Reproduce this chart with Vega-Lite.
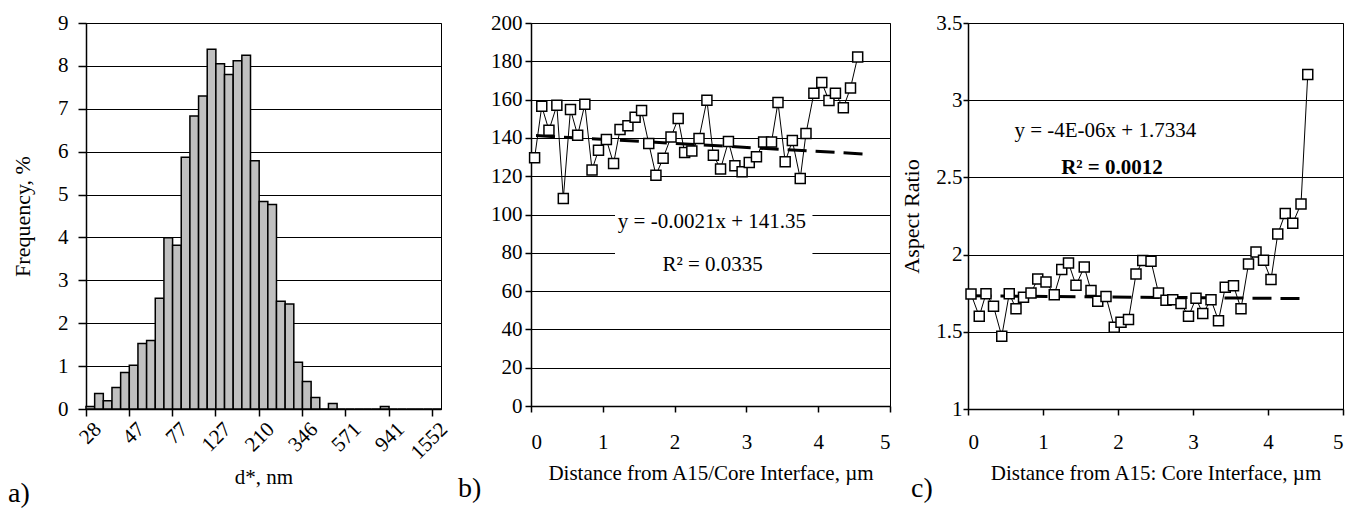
{
  "$schema": "https://vega.github.io/schema/vega-lite/v6.json",
  "background": "white",
  "padding": {"left": 7, "top": 11, "right": 0, "bottom": 0},
  "config": {
    "font": "Liberation Serif",
    "view": {"stroke": "black", "strokeWidth": 1},
    "axis": {
      "domainColor": "black", "domainWidth": 1.5,
      "tickColor": "black", "tickWidth": 1.5,
      "gridColor": "black", "gridOpacity": 1, "gridWidth": 1,
      "labelColor": "black", "titleColor": "black",
      "labelFont": "Liberation Serif", "titleFont": "Liberation Serif",
      "labelFontSize": 21, "titleFontSize": 21, "titleFontWeight": "normal"
    },
    "title": {"font": "Liberation Serif", "fontWeight": "normal", "fontSize": 28, "color": "black"}
  },
  "datasets": {
    "hist": [
      {"d": 28, "f": 0.06}, {"d": 31, "f": 0.36}, {"d": 34, "f": 0.19}, {"d": 38, "f": 0.5}, {"d": 42, "f": 0.85},
      {"d": 47, "f": 1.02}, {"d": 52, "f": 1.53}, {"d": 57, "f": 1.6}, {"d": 63, "f": 2.58}, {"d": 70, "f": 3.99},
      {"d": 77, "f": 3.82}, {"d": 85, "f": 5.87}, {"d": 94, "f": 6.83}, {"d": 104, "f": 7.3}, {"d": 115, "f": 8.39},
      {"d": 127, "f": 8.05}, {"d": 140, "f": 7.8}, {"d": 155, "f": 8.12}, {"d": 171, "f": 8.25}, {"d": 190, "f": 5.79},
      {"d": 210, "f": 4.84}, {"d": 232, "f": 4.77}, {"d": 256, "f": 2.51}, {"d": 283, "f": 2.45}, {"d": 313, "f": 1.09},
      {"d": 346, "f": 0.64}, {"d": 382, "f": 0.27}, {"d": 422, "f": 0}, {"d": 466, "f": 0.13}, {"d": 516, "f": 0},
      {"d": 571, "f": 0}, {"d": 631, "f": 0}, {"d": 697, "f": 0}, {"d": 770, "f": 0}, {"d": 851, "f": 0.06},
      {"d": 941, "f": 0}, {"d": 1040, "f": 0}, {"d": 1149, "f": 0}, {"d": 1270, "f": 0}, {"d": 1404, "f": 0},
      {"d": 1552, "f": 0}
    ],
    "b": [
      {"x": 0.05, "y": 129.6}, {"x": 0.15, "y": 156.5}, {"x": 0.25, "y": 144}, {"x": 0.36, "y": 157}, {"x": 0.45, "y": 108.4},
      {"x": 0.55, "y": 154.8}, {"x": 0.65, "y": 141.4}, {"x": 0.75, "y": 157.6}, {"x": 0.85, "y": 123.3}, {"x": 0.94, "y": 133.6},
      {"x": 1.05, "y": 139.1}, {"x": 1.15, "y": 126.6}, {"x": 1.24, "y": 144.4}, {"x": 1.35, "y": 146.3}, {"x": 1.45, "y": 150.8},
      {"x": 1.54, "y": 154.3}, {"x": 1.64, "y": 137.1}, {"x": 1.74, "y": 120.5}, {"x": 1.84, "y": 129.4}, {"x": 1.95, "y": 140.5},
      {"x": 2.05, "y": 150.1}, {"x": 2.14, "y": 132.4}, {"x": 2.24, "y": 133.1}, {"x": 2.34, "y": 139.7}, {"x": 2.45, "y": 159.7},
      {"x": 2.54, "y": 131}, {"x": 2.64, "y": 123.8}, {"x": 2.75, "y": 138.1}, {"x": 2.84, "y": 125.4}, {"x": 2.94, "y": 122.3},
      {"x": 3.04, "y": 127.1}, {"x": 3.14, "y": 130.1}, {"x": 3.24, "y": 137.9}, {"x": 3.35, "y": 137.9}, {"x": 3.44, "y": 158.5},
      {"x": 3.54, "y": 127.5}, {"x": 3.64, "y": 138.6}, {"x": 3.75, "y": 118.8}, {"x": 3.83, "y": 142.3}, {"x": 3.94, "y": 163.3},
      {"x": 4.05, "y": 168.9}, {"x": 4.15, "y": 159.5}, {"x": 4.24, "y": 163.3}, {"x": 4.35, "y": 155.7}, {"x": 4.45, "y": 166.1},
      {"x": 4.55, "y": 182.3}
    ],
    "btrend": [{"x": 0.07, "y": 141.2}, {"x": 4.64, "y": 131.6}],
    "bbox": [{"x": 1.17, "x2": 3.92, "y": 66, "y2": 105}],
    "btext": [
      {"x": 2.52, "y": 96.2, "label": "y = -0.0021x + 141.35"},
      {"x": 2.53, "y": 73.6, "label": "R² = 0.0335"}
    ],
    "c": [
      {"x": 0.04, "y": 1.745}, {"x": 0.15, "y": 1.6}, {"x": 0.24, "y": 1.747}, {"x": 0.34, "y": 1.665}, {"x": 0.45, "y": 1.471},
      {"x": 0.55, "y": 1.747}, {"x": 0.64, "y": 1.65}, {"x": 0.74, "y": 1.723}, {"x": 0.84, "y": 1.752}, {"x": 0.93, "y": 1.842},
      {"x": 1.04, "y": 1.823}, {"x": 1.15, "y": 1.74}, {"x": 1.25, "y": 1.903}, {"x": 1.34, "y": 1.946}, {"x": 1.44, "y": 1.801},
      {"x": 1.55, "y": 1.92}, {"x": 1.64, "y": 1.767}, {"x": 1.73, "y": 1.698}, {"x": 1.84, "y": 1.728}, {"x": 1.95, "y": 1.529},
      {"x": 2.04, "y": 1.562}, {"x": 2.14, "y": 1.579}, {"x": 2.24, "y": 1.874}, {"x": 2.33, "y": 1.961}, {"x": 2.44, "y": 1.957},
      {"x": 2.54, "y": 1.752}, {"x": 2.64, "y": 1.704}, {"x": 2.73, "y": 1.708}, {"x": 2.84, "y": 1.683}, {"x": 2.94, "y": 1.6},
      {"x": 3.04, "y": 1.717}, {"x": 3.13, "y": 1.618}, {"x": 3.24, "y": 1.708}, {"x": 3.34, "y": 1.572}, {"x": 3.43, "y": 1.788},
      {"x": 3.54, "y": 1.798}, {"x": 3.64, "y": 1.65}, {"x": 3.74, "y": 1.939}, {"x": 3.84, "y": 2.017}, {"x": 3.94, "y": 1.963},
      {"x": 4.04, "y": 1.838}, {"x": 4.13, "y": 2.133}, {"x": 4.23, "y": 2.267}, {"x": 4.33, "y": 2.203}, {"x": 4.44, "y": 2.328},
      {"x": 4.53, "y": 3.166}
    ],
    "ctrend": [{"x": 0.06, "y": 1.733}, {"x": 4.52, "y": 1.715}],
    "ctext1": [{"x": 1.83, "y": 2.803, "label": "y = -4E-06x + 1.7334"}],
    "ctext2": [{"x": 1.92, "y": 2.561, "label": "R² = 0.0012"}]
  },
  "bounds": "full",
  "spacing": 5,
  "hconcat": [
    {
      "width": 355,
      "height": 386,
      "data": {"name": "hist"},
      "title": {"text": "a)", "orient": "bottom", "anchor": "start", "frame": "group", "dx": -78, "offset": -8},
      "mark": {"type": "bar", "fill": "#c0c0c0", "stroke": "black", "strokeWidth": 1.5},
      "encoding": {
        "x": {
          "field": "d", "type": "ordinal",
          "scale": {"paddingInner": 0, "paddingOuter": 0},
          "axis": {
            "values": [28, 47, 77, 127, 210, 346, 571, 941, 1552],
            "bandPosition": 0, "labelAngle": -45, "title": "d*, nm",
            "tickSize": 7, "labelPadding": 2, "grid": false, "titlePadding": 4
          }
        },
        "y": {
          "field": "f", "type": "quantitative",
          "scale": {"domain": [0, 9]},
          "axis": {
            "values": [0, 1, 2, 3, 4, 5, 6, 7, 8, 9],
            "title": "Frequency, %", "titleFontSize": 22, "tickSize": 8, "labelPadding": 10,
            "grid": true, "titlePadding": 23
          }
        }
      }
    },
    {
      "spacing": 8,
      "hconcat": [
        {
          "width": 359,
          "height": 383,
          "title": {"text": "b)", "orient": "bottom", "anchor": "start", "frame": "group", "dx": -73, "offset": -8},
          "encoding": {
            "x": {
              "field": "x", "type": "quantitative",
              "scale": {"domain": [0, 5]},
              "axis": {
                "values": [0, 1, 2, 3, 4, 5], "title": "Distance from A15/Core Interface, µm",
                "tickSize": 6, "labelPadding": 19, "grid": false, "titlePadding": 10
              }
            },
            "y": {
              "field": "y", "type": "quantitative",
              "scale": {"domain": [0, 200]},
              "axis": {
                "values": [0, 20, 40, 60, 80, 100, 120, 140, 160, 180, 200],
                "title": null, "tickSize": 6, "labelPadding": 3, "grid": true
              }
            }
          },
          "layer": [
            {
              "data": {"name": "bbox"},
              "mark": {"type": "rect", "fill": "white", "stroke": null},
              "encoding": {"x2": {"field": "x2"}, "y2": {"field": "y2"}}
            },
            {
              "data": {"name": "b"},
              "mark": {"type": "line", "color": "black", "strokeWidth": 1}
            },
            {
              "data": {"name": "btrend"},
              "mark": {"type": "line", "color": "black", "strokeWidth": 3, "strokeDash": [19, 9]}
            },
            {
              "data": {"name": "b"},
              "mark": {"type": "point", "shape": "square", "filled": true, "fill": "white", "stroke": "black", "strokeWidth": 1.5, "size": 100, "opacity": 1}
            },
            {
              "data": {"name": "btext"},
              "mark": {"type": "text", "fontSize": 21, "font": "Liberation Serif", "color": "black"},
              "encoding": {"text": {"field": "label"}}
            }
          ]
        },
        {
          "width": 375,
          "height": 386,
          "title": {"text": "c)", "orient": "bottom", "anchor": "start", "frame": "group", "dx": -57, "offset": -8},
          "encoding": {
            "x": {
              "field": "x", "type": "quantitative",
              "scale": {"domain": [0, 5]},
              "axis": {
                "values": [0, 1, 2, 3, 4, 5], "title": "Distance from A15: Core Interface, µm",
                "tickSize": 6, "labelPadding": 16, "grid": false, "titlePadding": 10
              }
            },
            "y": {
              "field": "y", "type": "quantitative",
              "scale": {"domain": [1, 3.5]},
              "axis": {
                "values": [1, 1.5, 2, 2.5, 3, 3.5], "format": ".1~f",
                "title": "Aspect Ratio", "titleFontSize": 22, "tickSize": 5, "labelPadding": 1, "grid": true, "titlePadding": 12
              }
            }
          },
          "layer": [
            {
              "data": {"name": "c"},
              "mark": {"type": "line", "color": "black", "strokeWidth": 1}
            },
            {
              "data": {"name": "ctrend"},
              "mark": {"type": "line", "color": "black", "strokeWidth": 3, "strokeDash": [19, 9]}
            },
            {
              "data": {"name": "c"},
              "mark": {"type": "point", "shape": "square", "filled": true, "fill": "white", "stroke": "black", "strokeWidth": 1.5, "size": 100, "opacity": 1}
            },
            {
              "data": {"name": "ctext1"},
              "mark": {"type": "text", "fontSize": 21, "font": "Liberation Serif", "color": "black"},
              "encoding": {"text": {"field": "label"}}
            },
            {
              "data": {"name": "ctext2"},
              "mark": {"type": "text", "fontSize": 21, "font": "Liberation Serif", "fontWeight": "bold", "color": "black"},
              "encoding": {"text": {"field": "label"}}
            }
          ]
        }
      ]
    }
  ]
}
